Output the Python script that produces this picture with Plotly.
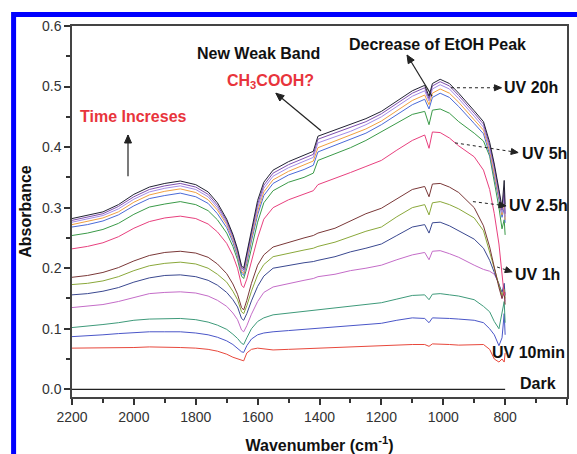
import math
import plotly.graph_objects as go

# Wavenumber grid (cm-1) at which the spectra were read
W = [2200, 2150, 2100, 2050, 2000, 1950, 1900, 1850, 1800, 1760, 1730, 1700, 1680, 1665, 1652, 1645,
     1635, 1620, 1600, 1580, 1550, 1500, 1450, 1420, 1405, 1350, 1300, 1250, 1200, 1150, 1100,
     1060, 1046, 1035, 1010, 980, 950, 900, 870, 850, 835, 820, 810, 803, 800]

dark_x = [2200, 800]
dark_y = [0.0, 0.0]

uv_10min = [.068, .068, .069, .069, .069, .070, .070, .069, .068, .066, .063, .058, .053, .050, .048, .047,
            .060, .066, .068, .067, .065, .066, .067, .068, .068, .069, .070, .071, .072, .073, .074,
            .074, .071, .075, .074, .074, .073, .073, .074, .066, .050, .045, .050, .045, .060]
uv_20min = [.087, .088, .090, .092, .094, .095, .095, .095, .093, .090, .086, .080, .074, .068, .062, .061,
            .072, .083, .090, .093, .095, .097, .099, .100, .101, .103, .105, .107, .109, .114, .118,
            .117, .110, .118, .118, .117, .116, .114, .110, .100, .090, .072, .085, .125, .090]
uv_30min = [.102, .104, .107, .110, .114, .116, .117, .117, .115, .111, .106, .099, .091, .084, .076, .074,
            .085, .100, .112, .118, .123, .126, .128, .130, .131, .134, .138, .140, .143, .149, .155,
            .156, .148, .157, .158, .156, .154, .148, .137, .128, .112, .100, .130, .145, .110]
uv_1h = [.135, .137, .140, .145, .152, .158, .160, .161, .159, .154, .147, .137, .126, .115, .098, .095,
         .105, .124, .145, .160, .169, .175, .180, .183, .186, .190, .196, .200, .205, .214, .222,
         .226, .214, .228, .229, .224, .218, .205, .198, .195, .190, .175, .150, .170, .145]
uv_1_5h = [.156, .158, .162, .168, .177, .184, .188, .189, .186, .180, .172, .160, .148, .136, .117, .114,
           .125, .146, .170, .187, .200, .205, .209, .211, .213, .219, .227, .233, .240, .254, .268,
           .272, .258, .275, .276, .270, .262, .248, .233, .213, .193, .172, .160, .175, .155]
uv_2h = [.173, .175, .179, .186, .196, .204, .208, .210, .207, .200, .190, .177, .162, .148, .128, .125,
         .138, .162, .189, .206, .219, .225, .230, .233, .236, .243, .252, .261, .268, .285, .300,
         .305, .288, .308, .310, .305, .298, .283, .262, .228, .200, .172, .155, .165, .150]
uv_2_5h = [.185, .188, .193, .201, .212, .221, .226, .228, .225, .218, .207, .191, .174, .157, .135, .131,
           .147, .175, .205, .222, .235, .243, .250, .254, .258, .266, .278, .290, .299, .315, .330,
           .335, .318, .339, .340, .334, .325, .300, .270, .235, .200, .168, .150, .160, .140]
uv_3h = [.232, .236, .242, .252, .266, .277, .283, .286, .282, .273, .260, .241, .221, .200, .172, .168,
         .182, .212, .250, .281, .300, .313, .322, .328, .338, .348, .358, .368, .378, .395, .411,
         .420, .398, .425, .424, .415, .402, .384, .362, .330, .290, .240, .190, .155, .160]
uv_4h = [.254, .258, .264, .274, .289, .301, .306, .310, .305, .295, .280, .258, .236, .214, .187, .183,
         .200, .235, .276, .308, .328, .342, .350, .357, .378, .389, .399, .411, .425, .440, .454,
         .459, .437, .461, .463, .456, .442, .423, .410, .385, .345, .300, .265, .280, .255]
uv_5h = [.268, .272, .278, .288, .303, .315, .320, .324, .318, .307, .290, .267, .243, .220, .192, .188,
         .208, .245, .288, .320, .340, .354, .363, .370, .392, .403, .412, .423, .437, .453, .470,
         .479, .463, .482, .489, .482, .467, .439, .422, .388, .353, .313, .284, .300, .275]
uv_8h = [.272, .277, .283, .293, .309, .321, .327, .331, .325, .313, .296, .272, .247, .223, .195, .191,
         .212, .250, .294, .326, .346, .360, .370, .377, .399, .410, .419, .430, .443, .460, .477,
         .486, .470, .489, .496, .489, .474, .445, .428, .393, .358, .318, .288, .310, .280]
uv_12h = [.276, .281, .287, .298, .314, .326, .332, .336, .330, .318, .300, .275, .250, .226, .198, .194,
          .216, .255, .300, .332, .352, .366, .376, .383, .407, .417, .426, .437, .450, .467, .484,
          .493, .476, .496, .503, .496, .480, .451, .433, .398, .363, .322, .292, .320, .285]
uv_16h = [.279, .284, .290, .302, .318, .330, .336, .340, .334, .322, .304, .278, .253, .229, .201, .197,
          .220, .260, .306, .337, .357, .371, .381, .388, .413, .423, .432, .442, .455, .472, .489,
          .498, .480, .501, .508, .501, .485, .456, .438, .403, .368, .326, .296, .330, .290]
uv_20h = [.282, .287, .293, .305, .322, .334, .340, .344, .338, .326, .308, .281, .256, .232, .204, .200,
          .224, .265, .312, .342, .362, .376, .386, .393, .418, .428, .437, .447, .459, .476, .493,
          .502, .484, .505, .512, .505, .489, .460, .442, .408, .372, .330, .300, .345, .305]

series = [
    ("UV 10min", uv_10min, "#e8483c"),
    ("UV 20min", uv_20min, "#4a56c8"),
    ("UV 30min", uv_30min, "#3e9a7a"),
    ("UV 1h", uv_1h, "#c46cc8"),
    ("UV 1.5h", uv_1_5h, "#3a4890"),
    ("UV 2h", uv_2h, "#8aa83a"),
    ("UV 2.5h", uv_2_5h, "#7a3838"),
    ("UV 3h", uv_3h, "#e8407e"),
    ("UV 4h", uv_4h, "#3a9a48"),
    ("UV 5h", uv_5h, "#4a6ad8"),
    ("UV 8h", uv_8h, "#f0a040"),
    ("UV 12h", uv_12h, "#a48ae8"),
    ("UV 16h", uv_16h, "#8050b0"),
    ("UV 20h", uv_20h, "#222233"),
]

for name, vals, _ in series:
    assert len(vals) == len(W), name

FONT = "Liberation Sans, Arial, sans-serif"
X_RANGE = [2200, 600]
Y_RANGE = [-0.0127, 0.6]
FIG_W, FIG_H = 577, 454
M = dict(l=72, r=10, t=26, b=57)
PX_PER_X = (FIG_W - M["l"] - M["r"]) / abs(X_RANGE[1] - X_RANGE[0])
PX_PER_Y = (FIG_H - M["t"] - M["b"]) / (Y_RANGE[1] - Y_RANGE[0])

fig = go.Figure()
fig.add_trace(go.Scatter(x=dark_x, y=dark_y, mode="lines", name="Dark",
                         line=dict(color="#222222", width=1.2)))
for name, vals, color in series:
    fig.add_trace(go.Scatter(x=W, y=vals, mode="lines", name=name,
                             line=dict(color=color, width=1)))

axis_common = dict(
    automargin=False,
    showgrid=False, zeroline=False, showline=True, linecolor="#444444", linewidth=1.5,
    mirror=True, ticks="outside", ticklen=6, tickwidth=1.5, tickcolor="#333333",
    tickfont=dict(family=FONT, size=14, color="#333333"),
)

fig.update_layout(
    width=FIG_W, height=FIG_H,
    margin=M,
    paper_bgcolor="white", plot_bgcolor="white",
    showlegend=False,
    font=dict(family=FONT),
    xaxis=dict(range=X_RANGE, tick0=600, dtick=200,
               minor=dict(dtick=100, ticks="outside", ticklen=4, tickwidth=1.5, tickcolor="#333333"),
               title=dict(text="Wavenumber (cm<sup>-1</sup>)", standoff=17,
                          font=dict(family=FONT, size=16, color="#111111", weight="bold")),
               **axis_common),
    yaxis=dict(range=Y_RANGE, tick0=0, dtick=0.1, tickformat=".1f",
               minor=dict(dtick=0.05, ticks="outside", ticklen=4, tickwidth=1.5, tickcolor="#333333"),
               title=dict(text="Absorbance", standoff=6,
                          font=dict(family=FONT, size=16, color="#111111", weight="bold")),
               **axis_common),
)

# blue frame around the figure (left and top edges visible)
fig.add_shape(type="rect", xref="paper", yref="paper", x0=-0.118, x1=1.2, y0=-0.3, y1=1.031,
              line=dict(color="#0000ff", width=5), fillcolor="rgba(0,0,0,0)", layer="above")

bold = dict(family=FONT, size=16, weight="bold")
red = "#e8343c"

texts = [
    ("Time Increses", 2000, 0.450, "center", red),
    ("New Weak Band", 1596, 0.555, "center", "#111111"),
    ("CH<sub>3</sub>COOH?", 1560, 0.508, "center", red),
    ("Decrease of EtOH Peak", 1020, 0.569, "center", "#111111"),
    ("UV 20h", 810, 0.498, "left", "#111111"),
    ("UV 5h", 752, 0.390, "left", "#111111"),
    ("UV 2.5h", 794, 0.304, "left", "#111111"),
    ("UV 1h", 775, 0.189, "left", "#111111"),
    ("UV 10min", 849, 0.060, "left", "#111111"),
    ("Dark", 759, 0.0104, "left", "#111111"),
]
for t, x, y, anc, col in texts:
    fig.add_annotation(x=x, y=y, text=t, showarrow=False, xanchor=anc, yanchor="middle",
                       font=dict(color=col, **bold))


def arrow(tail, head, dash=None, L=8.0, half=3.5, color="#222222"):
    (tx, ty), (hx, hy) = tail, head
    fig.add_shape(type="line", xref="x", yref="y", x0=tx, y0=ty, x1=hx, y1=hy,
                  line=dict(color=color, width=1.2 if dash is None else 1, dash=dash))
    # direction in screen pixels (x axis reversed, y up)
    dx = -(hx - tx) * PX_PER_X
    dy = (hy - ty) * PX_PER_Y
    n = math.hypot(dx, dy)
    ux, uy = dx / n, dy / n
    px, py = -uy, ux
    bx, by = -L * ux, -L * uy
    p1 = (bx + half * px, by + half * py)
    p2 = (bx - half * px, by - half * py)
    path = f"M 0 0 L {p1[0]:.2f} {p1[1]:.2f} L {p2[0]:.2f} {p2[1]:.2f} Z"
    fig.add_shape(type="path", xref="x", yref="y", xsizemode="pixel", ysizemode="pixel",
                  xanchor=hx, yanchor=hy, path=path,
                  line=dict(color=color, width=1), fillcolor=color)


# solid arrows
arrow((2019, 0.352), (2019, 0.420))
arrow((1395, 0.427), (1541, 0.489))
arrow((1036, 0.484), (1117, 0.552))

# dotted pointers to the labels
arrow((975, 0.498), (812, 0.498), dash="dot", L=7, half=3)
arrow((962, 0.407), (758, 0.391), dash="dot", L=7, half=3)
arrow((904, 0.310), (797, 0.303), dash="dot", L=7, half=3)
arrow((826, 0.202), (777, 0.194), dash="dot", L=7, half=3)

# place the figure flush with the page corner (no default body margin)
fig.write_html("out.html", config={"displayModeBar": False},
               post_script="document.body.style.margin='0px';document.body.style.overflow='hidden';")
